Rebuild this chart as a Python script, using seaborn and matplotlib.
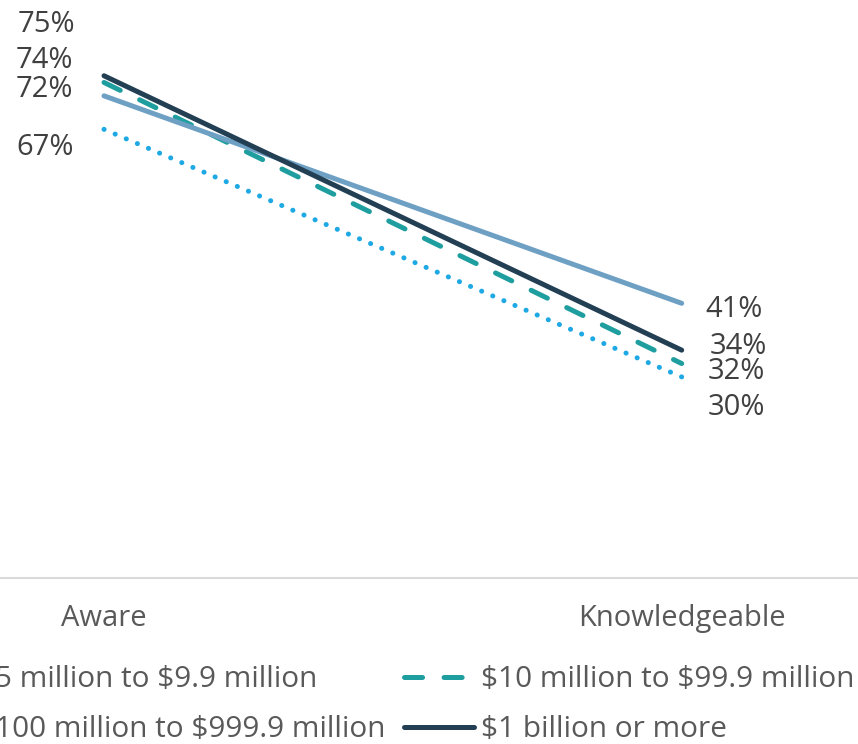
import matplotlib
matplotlib.use("Agg")
import matplotlib.pyplot as plt
import seaborn as sns
import pandas as pd

# ---- data -------------------------------------------------------------
stages = ["Aware", "Knowledgeable"]
revenue_bands = [
    "$5 million to $9.9 million",
    "$10 million to $99.9 million",
    "$100 million to $999.9 million",
    "$1 billion or more",
]
aware_pct = [67, 74, 72, 75]
knowledgeable_pct = [30, 32, 41, 34]

# ---- styling ----------------------------------------------------------
band_colors = ["#1EA9E4", "#1F9E9F", "#6EA0C4", "#233F54"]
band_dashes = [(0.1, 8.6), (13.0, 15.5), "", ""]

# label offsets (pixels) from each point: (dx, dy) for Aware, Knowledgeable
label_offsets = [
    [(-59, -26), (55, -38)],
    [(-60, 14), (55, -15)],
    [(-60, -1), (52, -14)],
    [(-58, 44), (57, -4)],
]

sns.set_theme(style="white")
plt.rcParams["font.family"] = ["Open Sans", "DejaVu Sans"]
plt.rcParams["text.parse_math"] = False
plt.rcParams["lines.scale_dashes"] = False

rows = []
for band, a, k in zip(revenue_bands, aware_pct, knowledgeable_pct):
    rows.append({"stage": 0, "stage_name": stages[0], "band": band, "pct": a})
    rows.append({"stage": 1, "stage_name": stages[1], "band": band, "pct": k})
df = pd.DataFrame(rows)

fig = plt.figure(figsize=(8.58, 7.44), dpi=100)
W, H = 858, 744
x_aware, x_know = 104.0, 681.7
unit = x_know - x_aware
ax_left = x_aware - unit / 2
ax_bottom_px = 577.7
ax_top_px = 42.3
ax = fig.add_axes([ax_left / W, (H - ax_bottom_px) / H,
                   2 * unit / W, (ax_bottom_px - ax_top_px) / H])

sns.lineplot(
    data=df, x="stage", y="pct", hue="band", style="band",
    hue_order=revenue_bands, style_order=revenue_bands,
    palette=dict(zip(revenue_bands, band_colors)),
    dashes=dict(zip(revenue_bands, band_dashes)),
    linewidth=3.6, ax=ax, legend=False,
    solid_capstyle="round", dash_capstyle="round",
)

ax.set_xlim(-0.5, 1.5)
ax.set_ylim(0, 80)
ax.set_xticks([0, 1])
ax.set_xticklabels(stages)
ax.set_yticks([])
ax.set_xlabel("")
ax.set_ylabel("")
ax.tick_params(axis="x", length=0, pad=19, labelsize=21, labelcolor="#595959")
for side in ["left", "right", "top"]:
    ax.spines[side].set_visible(False)
ax.spines["bottom"].set_color("#D9D9D9")
ax.spines["bottom"].set_linewidth(1.5)

# data labels
for i, band in enumerate(revenue_bands):
    for j, v in enumerate([aware_pct[i], knowledgeable_pct[i]]):
        dx, dy = label_offsets[i][j]
        ax.annotate(f"{v}%", xy=(j, v), xytext=(dx, dy),
                    textcoords="offset pixels", ha="center", va="baseline",
                    fontsize=21, color="#404040", annotation_clip=False)

# legend: two columns
lines = ax.get_lines()[:4]
order = [0, 2, 1, 3]
fig.legend([lines[i] for i in order], [revenue_bands[i] for i in order],
           ncol=2, loc="upper left", bbox_to_anchor=(-99 / W, (H - 665) / H),
           frameon=False, fontsize=21.4, labelcolor="#595959",
           handlelength=2.36, handletextpad=0.23, columnspacing=0.62,
           labelspacing=0.71, borderpad=0, borderaxespad=0)

fig.savefig("out.png", dpi=100)
